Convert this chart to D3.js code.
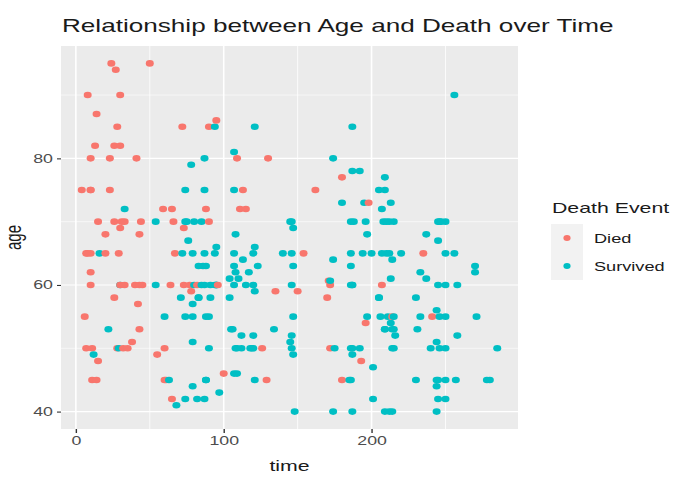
<!DOCTYPE html>
<html>
<head>
<meta charset="utf-8">
<script src="https://cdn.jsdelivr.net/npm/d3@7/dist/d3.min.js"></script>
<style>
  html, body { margin: 0; padding: 0; background: #ffffff; }
  svg { display: block; font-family: "Liberation Sans", Arial, sans-serif; }
</style>
</head>
<body>
<svg id="chart" width="678" height="477"></svg>
<script>
// Heart failure follow-up: time (days), age (years), death event (1 = died)
const time = [
  4,6,7,7,8,8,10,10,10,10, 10,10,11,11,12,13,14,14,15,15,
  16,20,20,22,23,23,24,26,26,26, 27,28,28,29,29,30,30,30,30,30,
  31,32,33,33,33,35,38,40,41,42, 43,43,43,44,45,50,54,54,55,59,
  60,60,60,61,63,64,65,65,66,67, 68,71,72,72,73,73,74,74,74,74,
  75,76,77,78,78,79,79,79,79,79, 80,80,82,82,83,83,83,85,85,86,
  87,87,87,87,87,88,88,88,88,88, 90,90,90,90,91,91,94,94,94,95,
  95,95,95,95,96,97,100,104,104,105, 106,107,107,107,107,107,107,108,108,108,
  109,109,109,110,111,112,112,113,113,115, 115,117,118,119,120,120,120,120,121,121,
  121,121,123,126,129,130,134,135,140,145, 145,146,146,146,146,146,147,147,147,147,
  148,150,154,162,170,171,172,172,172,174, 174,174,175,180,180,180,185,186,186,186,
  186,186,186,187,187,187,187,187,187,187, 188,192,192,193,194,195,196,196,197,197,
  198,200,201,201,205,205,205,206,207,207, 207,208,209,209,209,209,209,210,210,211,
  212,212,212,213,213,213,214,214,214,214, 214,215,215,215,215,216,220,230,230,231,
  233,233,235,237,237,240,241,244,244,244, 244,244,245,245,245,245,245,246,246,246,
  247,250,250,250,250,250,250,250,256,256, 257,258,258,270,270,271,278,280,285
];
const age = [
  75,55,65,50,65,90,75,60,65,80, 75,62,45,50,49,82,87,45,70,48,
  65,65,68,53,75,80,95,70,58,82, 94,85,50,50,65,69,90,82,60,60,
  70,50,70,72,60,50,51,60,80,57, 68,53,60,70,60,95,70,60,49,72,
  45,50,55,45,45,60,42,72,70,65, 41,58,85,65,69,60,70,42,75,55,
  70,67,60,79,59,51,55,65,44,57, 70,60,42,60,58,58,63,70,60,63,
  65,75,80,42,60,72,55,45,63,45, 85,55,50,70,60,58,60,85,65,86,
  60,66,60,60,60,43,46,58,61,53, 53,60,46,63,81,75,65,68,62,50,
  80,46,50,61,72,50,52,64,75,60, 72,62,50,50,65,60,52,50,85,59,
  66,45,63,50,45,80,53,59,65,70, 51,52,70,50,65,60,69,49,63,55,
  40,59,65,75,58,60.667,50,60,60.667,40, 80,64,50,73,45,77,45,65,50,60,
  63,45,70,60,78,50,40,85,60,49, 70,50,78,48,65,73,70,54,68,55,
  73,65,42,47,58,75,58,55,65,72, 60,70,40,53,53,77,75,70,65,55,
  70,65,40,73,54,61,55,64,40,53, 50,55,50,70,53,52,65,58,45,53,
  55,62,65,68,61,50,55,56,45,40, 44,51,67,42,60,45,70,70,50,55,
  70,70,42,65,50,55,60,45,65,90, 45,60,52,63,62,55,45,45,50
];
const deathEvent = [
  1,1,1,1,1,1,1,1,1,1, 1,1,1,1,0,1,1,1,1,1,
  0,1,1,0,1,1,1,1,1,1, 1,1,1,0,1,1,1,1,0,1,
  1,1,1,0,1,1,1,1,1,1, 1,1,1,1,1,1,0,0,1,1,
  1,1,0,1,0,1,1,1,1,1, 0,0,1,0,1,1,0,0,0,0,
  0,0,1,0,1,0,0,0,0,0, 0,0,0,1,0,0,0,0,0,0,
  0,0,0,0,0,1,0,0,0,0, 1,0,0,1,0,0,0,0,0,1,
  0,0,0,0,1,0,1,0,0,0, 0,0,0,0,0,0,0,0,0,0,
  1,0,0,0,1,0,0,0,1,0, 1,0,0,0,0,0,0,0,0,0,
  0,0,0,1,1,1,0,1,0,0, 0,0,0,0,0,0,0,0,0,0,
  0,1,1,1,1,1,1,1,0,0, 0,0,0,0,1,1,0,0,0,0,
  0,0,0,0,0,0,0,0,0,0, 0,0,0,1,0,0,0,1,0,0,
  1,0,0,0,0,0,0,0,0,0, 1,0,0,0,0,0,0,0,0,0,
  0,0,0,0,0,0,1,0,0,0, 0,0,0,0,0,0,0,0,0,0,
  0,0,1,0,0,0,1,0,0,0, 0,0,0,0,0,0,0,0,0,0,
  0,0,0,0,0,0,0,0,0,0, 0,0,0,0,0,0,0,0,0
];

const legendLabels = ["Died", "Survived"];
const legendColors = ["#F8766D", "#00BFC4"];
const xTicks = [0, 100, 200];
const xMinor = [50, 150, 250];
const yTicks = [40, 60, 80];
const yMinor = [50, 70, 90];

const titleText = "Relationship between Age and Death over Time";
const xTitle = "time";
const yTitle = "age";
const legendTitle = "Death Event";

// horizontal glyph stretch of the rendered output
const SX = 1.42;

const points = time.map((t, i) => ({
  time: t, age: age[i], status: deathEvent[i] === 1 ? "Died" : "Survived"
}));

const svg = d3.select("#chart");
const panel = { left: 61, right: 518, top: 46, bottom: 429 };

// ggplot-style 5% expansion of the data range
function expand(ext) {
  const pad = (ext[1] - ext[0]) * 0.05;
  return [ext[0] - pad, ext[1] + pad];
}

const x = d3.scaleLinear().domain(expand(d3.extent(time))).range([panel.left, panel.right]);
const y = d3.scaleLinear().domain(expand(d3.extent(age))).range([panel.bottom, panel.top]);
const color = d3.scaleOrdinal().domain(legendLabels).range(legendColors);

// panel background
svg.append("rect")
  .attr("x", panel.left).attr("y", panel.top)
  .attr("width", panel.right - panel.left).attr("height", panel.bottom - panel.top)
  .attr("fill", "#EBEBEB");

const grid = svg.append("g");
grid.selectAll(".xminor").data(xMinor).join("line")
  .attr("x1", d => x(d)).attr("x2", d => x(d))
  .attr("y1", panel.top).attr("y2", panel.bottom)
  .attr("stroke", "#ffffff").attr("stroke-width", 0.8);
grid.selectAll(".yminor").data(yMinor).join("line")
  .attr("x1", panel.left).attr("x2", panel.right)
  .attr("y1", d => y(d)).attr("y2", d => y(d))
  .attr("stroke", "#ffffff").attr("stroke-width", 0.6);
grid.selectAll(".xmajor").data(xTicks).join("line")
  .attr("x1", d => x(d)).attr("x2", d => x(d))
  .attr("y1", panel.top).attr("y2", panel.bottom)
  .attr("stroke", "#ffffff").attr("stroke-width", 1.6);
grid.selectAll(".ymajor").data(yTicks).join("line")
  .attr("x1", panel.left).attr("x2", panel.right)
  .attr("y1", d => y(d)).attr("y2", d => y(d))
  .attr("stroke", "#ffffff").attr("stroke-width", 1.2);

// points
svg.append("g").selectAll("ellipse").data(points).join("ellipse")
  .attr("cx", d => x(d.time)).attr("cy", d => y(d.age))
  .attr("rx", 4.0).attr("ry", 3.3)
  .attr("fill", d => color(d.status));

// axes
const xAxis = d3.axisBottom(x).tickValues(xTicks).tickSize(4).tickPadding(3);
const gx = svg.append("g").attr("transform", `translate(0,${panel.bottom})`).call(xAxis);
gx.select(".domain").remove();
gx.selectAll(".tick line").attr("stroke", "#333333").attr("stroke-width", 1.4);
gx.selectAll(".tick text")
  .attr("fill", "#4D4D4D").attr("font-size", 12.5)
  .attr("font-family", "Liberation Sans, Arial, sans-serif")
  .attr("dy", "0.71em")
  .attr("x", 0)
  .attr("transform", `scale(${SX},1)`);

const yAxis = d3.axisLeft(y).tickValues(yTicks).tickSize(4).tickPadding(4);
const gy = svg.append("g").attr("transform", `translate(${panel.left},0)`).call(yAxis);
gy.select(".domain").remove();
gy.selectAll(".tick line").attr("stroke", "#333333").attr("stroke-width", 1.1);
gy.selectAll(".tick text")
  .attr("fill", "#4D4D4D").attr("font-size", 12.5)
  .attr("font-family", "Liberation Sans, Arial, sans-serif")
  .attr("x", 0)
  .attr("transform", `translate(-8,0) scale(${SX},1)`);

// titles
function stretchedText(xp, yp, txt, size, anchor, extra) {
  return svg.append("text")
    .attr("transform", `translate(${xp},${yp}) scale(${SX},1)` + (extra || ""))
    .attr("text-anchor", anchor)
    .attr("font-size", size)
    .attr("fill", "#1A1A1A")
    .text(txt);
}

stretchedText(panel.left + 1, 32, titleText, 18.4, "start");
stretchedText((panel.left + panel.right) / 2, 471, xTitle, 15, "middle");
stretchedText(21, (panel.top + panel.bottom) / 2, yTitle, 15, "middle", " rotate(-90)");

// legend
const lg = svg.append("g");
stretchedText(552, 213, legendTitle, 15, "start");
const keyW = 32, keyH = 28, keyX = 551, keyY = 224;
lg.selectAll("rect").data(legendLabels).join("rect")
  .attr("x", keyX).attr("y", (d, i) => keyY + i * keyH)
  .attr("width", keyW).attr("height", keyH)
  .attr("fill", "#F2F2F2");
lg.selectAll("ellipse").data(legendLabels).join("ellipse")
  .attr("cx", keyX + keyW / 2).attr("cy", (d, i) => keyY + i * keyH + keyH / 2)
  .attr("rx", 3.6).attr("ry", 2.9)
  .attr("fill", d => color(d));
legendLabels.forEach((lab, i) => {
  stretchedText(594, keyY + i * keyH + keyH / 2 + 4.5, lab, 12.8, "start");
});
</script>
</body>
</html>
